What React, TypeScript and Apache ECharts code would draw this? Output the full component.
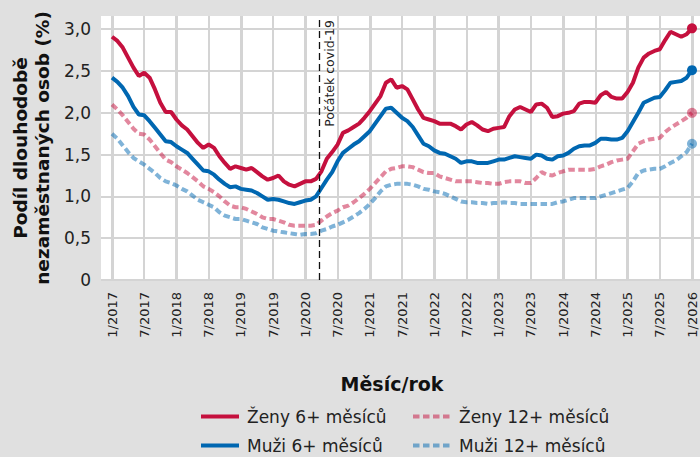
import React, { useEffect, useRef } from "react";
import * as echarts from "echarts";

const startYear = 2017;
const tickLabels = ["0", "0,5", "1,0", "1,5", "2,0", "2,5", "3,0"];

const seriesNames = ["Ženy 6+ měsíců", "Muži 6+ měsíců", "Ženy 12+ měsíců", "Muži 12+ měsíců"];

const zeny6 = [
  2.91, 2.86, 2.78, 2.66, 2.54, 2.44, 2.48, 2.42, 2.28, 2.12,
  2.01, 2.01, 1.92, 1.85, 1.8, 1.72, 1.64, 1.58, 1.62, 1.58,
  1.48, 1.4, 1.33, 1.36, 1.34, 1.32, 1.34, 1.29, 1.24, 1.2,
  1.22, 1.25, 1.18, 1.14, 1.12, 1.15,
  1.18, 1.18, 1.21, 1.3, 1.45, 1.53, 1.62, 1.76, 1.79, 1.83,
  1.87, 1.94, 2.02, 2.11, 2.2, 2.36, 2.4, 2.3, 2.32, 2.28,
  2.16, 2.04, 1.94, 1.92, 1.9, 1.87, 1.87, 1.87, 1.84, 1.8,
  1.86, 1.89, 1.85, 1.8, 1.78, 1.81, 1.82,
  1.83, 1.96, 2.04, 2.07, 2.04, 2.01, 2.1, 2.11, 2.06, 1.95,
  1.96, 1.99, 2.0, 2.02, 2.11, 2.13, 2.13, 2.12, 2.21, 2.25,
  2.19, 2.17, 2.17, 2.25, 2.36, 2.54, 2.66, 2.71, 2.74, 2.76,
  2.87, 2.97, 2.94, 2.91, 2.94, 3.01,
];

const muzi6 = [
  2.42, 2.37, 2.3, 2.2, 2.07, 1.98, 1.97, 1.9, 1.82, 1.74,
  1.66, 1.65, 1.6, 1.56, 1.52, 1.45, 1.38, 1.31, 1.3, 1.26,
  1.2, 1.15, 1.11, 1.12, 1.09, 1.08, 1.07, 1.04, 1.0, 0.96,
  0.97, 0.96, 0.94, 0.92, 0.91, 0.93,
  0.95, 0.96, 1.0, 1.1, 1.2, 1.29, 1.42, 1.52, 1.57, 1.62,
  1.66, 1.72, 1.78, 1.87, 1.96, 2.05, 2.06, 2.0, 1.94, 1.9,
  1.83, 1.73, 1.63, 1.6, 1.55, 1.52, 1.51, 1.48, 1.45, 1.4,
  1.42, 1.42, 1.4, 1.4, 1.4, 1.42, 1.44,
  1.44, 1.46, 1.48, 1.47, 1.46, 1.45, 1.5, 1.49, 1.45, 1.44,
  1.48, 1.49, 1.52, 1.57, 1.6, 1.61, 1.61, 1.64, 1.69, 1.69,
  1.68, 1.68, 1.7, 1.78, 1.89, 2.0, 2.12, 2.15, 2.18, 2.19,
  2.27, 2.36, 2.37, 2.38, 2.42, 2.51,
];

const zeny12 = [
  2.1, 2.04, 1.97, 1.89, 1.81, 1.75, 1.74, 1.68, 1.6, 1.52,
  1.44, 1.41, 1.36, 1.32, 1.28, 1.23, 1.18, 1.12, 1.09, 1.05,
  1.0, 0.94, 0.89, 0.87, 0.87, 0.85, 0.82, 0.79, 0.75, 0.73,
  0.73, 0.71, 0.69, 0.66, 0.65, 0.65,
  0.65, 0.65, 0.66, 0.71, 0.76, 0.8, 0.83, 0.87, 0.89, 0.93,
  0.98, 1.03, 1.09, 1.16, 1.23, 1.3, 1.33, 1.34, 1.36, 1.36,
  1.35, 1.32, 1.29, 1.28, 1.28, 1.24, 1.22, 1.2, 1.18, 1.18,
  1.18, 1.18, 1.17, 1.16, 1.16, 1.15, 1.15,
  1.17, 1.18, 1.18, 1.18, 1.16, 1.16, 1.22, 1.29, 1.26, 1.25,
  1.28, 1.3, 1.32, 1.32, 1.32, 1.32, 1.32, 1.33, 1.36, 1.38,
  1.41, 1.43, 1.44, 1.45, 1.54, 1.63, 1.66, 1.68, 1.69, 1.7,
  1.77, 1.82, 1.86, 1.9, 1.94, 2.0,
];

const muzi12 = [
  1.75, 1.69, 1.61, 1.53, 1.46, 1.42, 1.38, 1.33, 1.28, 1.22,
  1.18, 1.16, 1.13, 1.09, 1.06, 1.01, 0.96, 0.93, 0.9, 0.87,
  0.81, 0.77, 0.75, 0.73, 0.73, 0.71, 0.69, 0.67, 0.63, 0.61,
  0.59, 0.58, 0.57, 0.56, 0.55, 0.54,
  0.55, 0.55, 0.56, 0.59, 0.61, 0.64, 0.66, 0.69, 0.72, 0.76,
  0.8, 0.85, 0.91, 0.98, 1.06, 1.12, 1.14, 1.15, 1.15, 1.15,
  1.14, 1.12, 1.09, 1.08, 1.06, 1.05, 1.03, 1.0, 0.97, 0.94,
  0.93, 0.93, 0.92, 0.92, 0.91, 0.92, 0.92,
  0.93, 0.92, 0.92, 0.91, 0.91, 0.91, 0.91, 0.91, 0.91, 0.91,
  0.93, 0.94, 0.96, 0.98, 0.98, 0.98, 0.98, 0.98, 1.0, 1.02,
  1.04, 1.06, 1.08, 1.1, 1.18, 1.28, 1.31, 1.32, 1.33, 1.33,
  1.36, 1.4, 1.43, 1.48, 1.53, 1.63,
];

const covidMonthIndex = 38.5;
const covidLabel = "Počátek covid-19";

const RED = "#c5103e";
const BLUE = "#0067b1";
const FONT = "'DejaVu Sans', sans-serif";
const TEXT = "#222222";
const GRID = "#d4d4d4";
const Y_MAX = 3.158;
const LAST = 108;

function monthLabel(i: number): string {
  const m = (i % 12) + 1;
  const y = startYear + Math.floor(i / 12);
  return `${m}/${y}`;
}

function toPairs(values: number[]) {
  return values.map((v, i) => [i, v]);
}

export default function App() {
  const ref = useRef<HTMLDivElement>(null);

  useEffect(() => {
    document.body.style.margin = "0";
    document.body.style.background = "#e0e0e0";
    const chart = echarts.init(ref.current!, null, { renderer: "svg" });

    const lineSeries = (name: string, values: number[], color: string, dashed: boolean, extra: any = {}) => {
      const last = values.length - 1;
      return {
        name,
        type: "line",
        xAxisIndex: 2,
        yAxisIndex: 1,
        data: toPairs(values),
        symbol: "none",
        clip: false,
        color,
        lineStyle: {
          color,
          width: 4,
          type: dashed ? [6.5, 3.5] : "solid",
          opacity: dashed ? 0.5 : 1,
        },
        itemStyle: { color },
        markPoint: {
          silent: true,
          symbol: "circle",
          symbolSize: 10,
          label: { show: false },
          itemStyle: { color, opacity: dashed ? 0.5 : 1 },
          data: [{ coord: [last, values[last]] }],
        },
        ...extra,
      };
    };

    const legendItem = (name: string, left: number, top: number) => ({
      data: [name],
      left,
      top,
      padding: 0,
      orient: "horizontal",
      selectedMode: false,
      itemWidth: 38,
      itemHeight: 14,
      lineStyle: { width: 4 },
      itemStyle: { color: "rgba(0,0,0,0)", borderColor: "rgba(0,0,0,0)", borderWidth: 0, opacity: 0 },
      textStyle: { fontFamily: FONT, fontSize: 17, color: TEXT, padding: [0, 0, 0, 3] },
    });

    chart.setOption({
      animation: false,
      backgroundColor: "#e0e0e0",
      textStyle: { fontFamily: FONT },
      grid: [
        { left: 101, right: 0, top: 16, bottom: 177, show: true, backgroundColor: "#ffffff", borderWidth: 0, outerBoundsMode: "none" },
        { left: 112, right: 8, top: 16, bottom: 177, show: false, outerBoundsMode: "none" },
      ],
      xAxis: [
        { type: "value", gridIndex: 0, min: 0, max: 1, show: false },
        {
          type: "value",
          gridIndex: 1,
          position: "bottom",
          min: 0,
          max: LAST,
          interval: 12,
          axisLine: { show: false },
          axisTick: { show: false },
          axisLabel: { show: false },
          splitLine: { show: true, lineStyle: { color: GRID, width: 3 } },
        },
        {
          type: "value",
          gridIndex: 1,
          position: "bottom",
          min: 0,
          max: LAST,
          interval: 6,
          axisLine: { show: false },
          axisTick: { show: false },
          splitLine: { show: true, lineStyle: { color: GRID, width: 2 } },
          axisLabel: {
            rotate: 90,
            margin: 12,
            fontSize: 13,
            color: TEXT,
            fontFamily: FONT,
            formatter: (v: number) => monthLabel(v),
          },
        },
      ],
      yAxis: [
        {
          type: "value",
          gridIndex: 0,
          min: 0,
          max: Y_MAX,
          interval: 0.5,
          axisLine: { show: false },
          axisTick: { show: false },
          splitLine: { show: true, showMaxLine: false, lineStyle: { color: GRID, width: 2 } },
          axisLabel: {
            showMaxLabel: false,
            margin: 10,
            fontSize: 17,
            color: TEXT,
            fontFamily: FONT,
            padding: [0, 0, 6, 0],
            formatter: (v: number) => {
              const idx = Math.round(v / 0.5);
              return Math.abs(idx * 0.5 - v) < 1e-6 ? tickLabels[idx] ?? "" : "";
            },
          },
          name: "Podíl dlouhodobě\nnezaměstnaných osob (%)",
          nameLocation: "middle",
          nameGap: 48,
          nameTextStyle: { fontFamily: FONT, fontSize: 18.5, fontWeight: "bold", color: "#111111", lineHeight: 22 },
        },
        { type: "value", gridIndex: 1, min: 0, max: Y_MAX, show: false },
      ],
      legend: [
        legendItem(seriesNames[0], 199, 408),
        legendItem(seriesNames[2], 411, 408),
        legendItem(seriesNames[1], 199, 437),
        legendItem(seriesNames[3], 411, 437),
      ],
      graphic: [
        {
          type: "text",
          x: 392,
          y: 384,
          style: {
            text: "Měsíc/rok",
            fontFamily: FONT,
            fontSize: 19,
            fontWeight: "bold",
            fill: "#111111",
            align: "center",
            verticalAlign: "middle",
          },
        },
      ],
      series: [
        lineSeries(seriesNames[2], zeny12, RED, true),
        lineSeries(seriesNames[3], muzi12, BLUE, true),
        lineSeries(seriesNames[1], muzi6, BLUE, false),
        lineSeries(seriesNames[0], zeny6, RED, false, {
          markLine: {
            silent: true,
            symbol: "none",
            lineStyle: { color: "#111111", width: 1.3, type: [7, 4], opacity: 1 },
            label: {
              show: true,
              formatter: covidLabel,
              position: "insideEndBottom",
              distance: 4,
              fontFamily: FONT,
              fontSize: 12.5,
              color: TEXT,
            },
            data: [{ xAxis: covidMonthIndex }],
          },
        }),
      ],
    });

    return () => chart.dispose();
  }, []);

  return <div ref={ref} style={{ width: 700, height: 457 }} />;
}
